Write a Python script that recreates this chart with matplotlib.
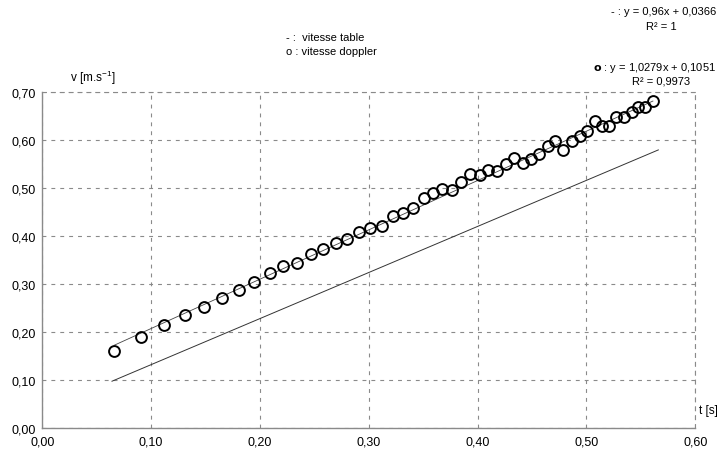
import matplotlib
matplotlib.use('Agg')
import matplotlib.pyplot as plt
import numpy as np

plt.rcParams['font.family'] = ['Liberation Sans', 'DejaVu Sans']
plt.rcParams['mathtext.default'] = 'regular'

# vitesse doppler (mesures)
t_doppler = [0.0662, 0.0904, 0.1121, 0.1312, 0.1489, 0.1652, 0.1805, 0.1946,
             0.2090, 0.2215, 0.2338, 0.2467, 0.2580, 0.2697, 0.2803, 0.2914,
             0.3012, 0.3122, 0.3226, 0.3318, 0.3410, 0.3505, 0.3591, 0.3676,
             0.3766, 0.3851, 0.3934, 0.4017, 0.4096, 0.4182, 0.4262, 0.4333,
             0.4412, 0.4492, 0.4565, 0.4648, 0.4710, 0.4783, 0.4866, 0.4936,
             0.5004, 0.5077, 0.5138, 0.5211, 0.5273, 0.5347, 0.5414, 0.5475,
             0.5542, 0.5610]
v_doppler = [0.161, 0.190, 0.215, 0.235, 0.252, 0.272, 0.289, 0.305,
             0.324, 0.338, 0.344, 0.3625, 0.374, 0.385, 0.394, 0.408,
             0.417, 0.421, 0.443, 0.449, 0.459, 0.479, 0.491, 0.499,
             0.497, 0.514, 0.529, 0.528, 0.5375, 0.537, 0.550, 0.5625,
             0.553, 0.562, 0.571, 0.589, 0.599, 0.580, 0.598, 0.608,
             0.620, 0.641, 0.630, 0.630, 0.648, 0.648, 0.659, 0.670,
             0.669, 0.681]

# vitesse table : droite y = a x + b
t_table = [0.064, 0.566]
coef_table = (0.96, 0.0366)
coef_doppler = (1.0279, 0.1051)

x_ticks = [0.0, 0.1, 0.2, 0.3, 0.4, 0.5, 0.6]
y_ticks = [0.0, 0.1, 0.2, 0.3, 0.4, 0.5, 0.6, 0.7]

fig = plt.figure(figsize=(7.21, 4.56), dpi=100)
ax = fig.add_axes([0.0587, 0.0586, 0.9057, 0.7368])

gris = '#8a8a8a'

# droite vitesse table
tt = np.array(t_table)
ax.plot(tt, coef_table[0] * tt + coef_table[1], color='#333333', linewidth=0.7)

# droite de regression doppler
td = np.array([t_doppler[0], t_doppler[-1]])
ax.plot(td, coef_doppler[0] * td + coef_doppler[1], color='#444444', linewidth=0.6)

# points doppler
ax.plot(t_doppler, v_doppler, linestyle='none', marker='o', markersize=7.8,
        markerfacecolor='none', markeredgecolor='black', markeredgewidth=1.4)

ax.set_xlim(0, 0.6)
ax.set_ylim(0, 0.7)
ax.set_xticks(x_ticks)
ax.set_yticks(y_ticks)
ax.set_xticklabels([f"{v:.2f}".replace('.', ',') for v in x_ticks], fontsize=9)
ax.set_yticklabels([f"{v:.2f}".replace('.', ',') for v in y_ticks], fontsize=9)
ax.tick_params(length=0, pad=5)

ax.grid(True, color=gris, linestyle=(0, (3.5, 4.5)), linewidth=0.8)
ax.spines['left'].set_color(gris)
ax.spines['bottom'].set_color(gris)
ax.spines['left'].set_linewidth(1.0)
ax.spines['bottom'].set_linewidth(1.0)
for s in ['top', 'right']:
    ax.spines[s].set_color(gris)
    ax.spines[s].set_linestyle((0, (3.5, 4.5)))
    ax.spines[s].set_linewidth(0.8)

# textes
fig.text(70 / 721, 1 - 78 / 456, 'v [m.s$^{-1}$]', fontsize=8.5, va='center')
fig.text(699 / 721, 1 - 411 / 456, 't [s]', fontsize=8.5, va='center')

fig.text(286 / 721, 1 - 38 / 456, '- :  vitesse table', fontsize=8, va='center')
fig.text(286 / 721, 1 - 52 / 456, 'o : vitesse doppler', fontsize=8, va='center')

fig.text(716 / 721, 1 - 12 / 456, '- : y = 0,96x + 0,0366', fontsize=8,
         va='center', ha='right')
fig.text(661 / 721, 1 - 27 / 456, 'R² = 1', fontsize=8, va='center', ha='center')
fig.text(716 / 721, 1 - 68 / 456, r'$\mathbf{o}$ : y = 1,0279x + 0,1051', fontsize=8,
         va='center', ha='right')
fig.text(661 / 721, 1 - 82 / 456, 'R² = 0,9973', fontsize=8, va='center', ha='center')

fig.savefig('out.png', dpi=100)
